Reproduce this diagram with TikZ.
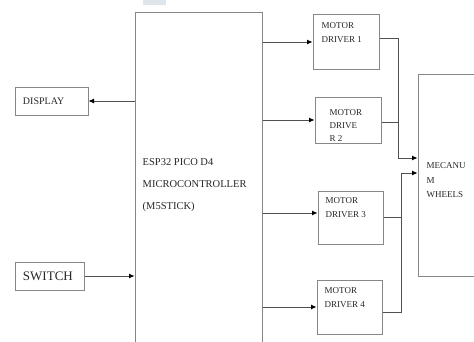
\documentclass[tikz,border=0pt]{standalone}
\usepackage{fontspec}
\setmainfont{Liberation Serif}
\usetikzlibrary{arrows.meta, positioning, calc}
\definecolor{edgegray}{RGB}{135,135,135}
\definecolor{wiregray}{RGB}{80,80,80}
\definecolor{smudge}{RGB}{222,230,236}

\begin{document}
\begin{tikzpicture}[x=1pt, y=1pt,
        every node/.style={font=\fontsize{9}{14}\selectfont, text=black!85},
        blk/.style={draw=edgegray, line width=1pt, inner sep=0pt},
        iobox/.style={blk, minimum height=28pt, inner xsep=8pt, align=left},
        drvbox/.style={blk, minimum width=66pt},
        drvtxt/.style={anchor=north west, inner sep=0pt, align=left},
        wire/.style={draw=wiregray, line width=0.8pt},
        arrowstyle/.style={wire, -{Latex[length=5.5pt, width=5pt, black]}}
    ]
        \useasboundingbox (0,0) rectangle (474,341);
        \fill[smudge] (143,336) rectangle (166,341);

        % controller and its inputs / outputs
        \node[blk, minimum width=127pt, minimum height=344pt] (mcu) at (198.5,156) {};
        \node[drvtxt, font=\fontsize{10.5}{22}\selectfont] (mcutxt) at ([xshift=8pt, yshift=-146pt]mcu.north west) {ESP32 PICO D4\\MICROCONTROLLER\\(M5STICK)};
        \node[iobox, text width=57pt, font=\fontsize{10}{12}\selectfont] (disp) at (51.5,240) {DISPLAY};
        \node[iobox, text width=53pt, font=\fontsize{13}{15}\selectfont] (sw) at (49.5,65) {SWITCH};

        % motor drivers
        \node[drvbox, minimum height=54pt] (md1) at (346,299) {};
        \node[drvbox, minimum height=46pt] (md2) at (348,221) {};
        \node[drvbox, minimum height=53pt, minimum width=65pt] (md3) at (350.5,123.5) {};
        \node[drvbox, minimum height=54pt, minimum width=65pt] (md4) at (349.5,34) {};
        \node[drvtxt] (md1txt) at ([xshift=9pt, yshift=-8pt]md1.north west) {MOTOR\\DRIVER 1};
        \node[drvtxt, font=\fontsize{9}{13}\selectfont] (md2txt) at ([xshift=15pt, yshift=-13pt]md2.north west) {MOTOR\\DRIVE\\R 2};
        \node[drvtxt] (md3txt) at ([xshift=8pt, yshift=-7pt]md3.north west) {MOTOR\\DRIVER 3};
        \node[drvtxt] (md4txt) at ([xshift=8pt, yshift=-8pt]md4.north west) {MOTOR\\DRIVER 4};

        % wheels
        \node[blk, minimum width=72pt, minimum height=202pt] (mec) at (454,166) {};
        \node[drvtxt, font=\fontsize{9}{14.5}\selectfont] (mectxt) at ([xshift=9pt, yshift=-89pt]mec.north west) {MECANU\\M\\WHEELS};

        \draw[arrowstyle] (mcu.west |- disp.east) -- (disp.east);
        \draw[arrowstyle] (sw.east) -- (mcu.west |- sw.east);

        \coordinate (in3) at ([yshift=4.5pt]md3.west);
        \draw[arrowstyle] (mcu.east |- md1.west) -- (md1.west);
        \draw[arrowstyle] (mcu.east |- md2.west) -- (md2.west);
        \draw[arrowstyle] (mcu.east |- in3) -- (in3);
        \draw[arrowstyle] (mcu.east |- md4.west) -- (md4.west);

        \coordinate (jA) at (398,183);
        \coordinate (jB) at (401,168);
        \coordinate (out2) at ([yshift=-2pt]md2.east);
        \draw[arrowstyle] ([yshift=4pt]md1.east) -| (jA) -- (mec.west |- jA);
        \draw[wire] (out2) -- (jA |- out2);
        \draw[wire] (md3.east) -- (jB |- md3.east);
        \draw[arrowstyle] ([yshift=-5pt]md4.east) -| (jB) -- (mec.west |- jB);
    \end{tikzpicture}
\end{document}
